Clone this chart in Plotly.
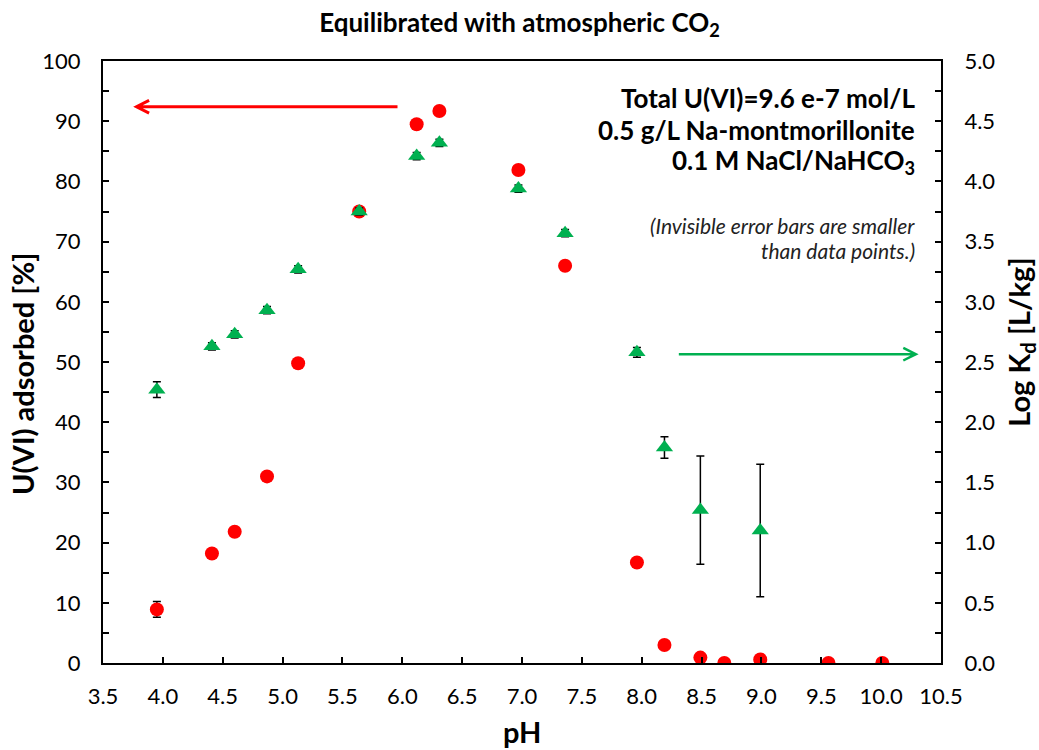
import plotly.graph_objects as go

# ---- data ----
ph_red = [3.95, 4.41, 4.60, 4.87, 5.13, 5.64, 6.12, 6.31, 6.97, 7.36, 7.96, 8.19, 8.49, 8.69, 8.99, 9.56, 10.01]
ads_pct = [8.9, 18.2, 21.8, 31.0, 49.8, 75.0, 89.5, 91.7, 81.9, 66.0, 16.7, 3.0, 0.9, 0.0, 0.6, 0.0, 0.0]
ads_err = [1.3, 0.5, 0.5, 0.5, 0.5, 0.5, 0.5, 0.5, 0.5, 0.5, 0.5, 0.5, 0.3, 0.2, 0.3, 0.2, 0.2]

ph_green = [3.95, 4.41, 4.60, 4.87, 5.13, 5.64, 6.12, 6.31, 6.97, 7.36, 7.96, 8.19, 8.49, 8.99]
log_kd = [2.27, 2.63, 2.73, 2.93, 3.27, 3.75, 4.21, 4.32, 3.94, 3.57, 2.58, 1.79, 1.27, 1.10]
kd_err = [0.065, 0.03, 0.03, 0.03, 0.03, 0.03, 0.03, 0.03, 0.03, 0.03, 0.04, 0.09, 0.45, 0.55]

x_ticks = [3.5 + 0.5 * i for i in range(15)]

FONT = "Lato"
RED = "#FF0000"
GREEN = "#00B050"

fig = go.Figure()
fig.add_trace(go.Scatter(
    x=ph_red, y=ads_pct, mode="markers", name="U(VI) adsorbed",
    marker=dict(symbol="circle", size=14, color=RED),
    error_y=dict(type="data", array=ads_err, color="black", thickness=1.5, width=4),
    yaxis="y", showlegend=False))
fig.add_trace(go.Scatter(
    x=ph_green, y=log_kd, mode="markers", name="Log Kd",
    marker=dict(symbol="triangle-up", size=15, color=GREEN),
    error_y=dict(type="data", array=kd_err, color="black", thickness=1.5, width=4),
    yaxis="y2", showlegend=False))

# arrows (left-axis data coordinates)
red_arrow = dict(x_from=5.96, x_to=3.78, y=92.4)
green_arrow = dict(x_from=8.31, x_to=10.29, y=51.3)
head_dx, head_dy = 0.105, 1.05

def arrow_path(a):
    d = 1 if a["x_to"] < a["x_from"] else -1
    tip = a["x_to"]
    return (f"M {a['x_from']},{a['y']} L {tip},{a['y']} "
            f"M {tip + d*head_dx},{a['y'] + head_dy} L {tip},{a['y']} L {tip + d*head_dx},{a['y'] - head_dy}")

shapes = [
    dict(type="path", xref="x", yref="y", path=arrow_path(red_arrow), line=dict(color=RED, width=3)),
    dict(type="path", xref="x", yref="y", path=arrow_path(green_arrow), line=dict(color=GREEN, width=2.5)),
]

notes_bold = ["Total U(VI)=9.6 e-7 mol/L", "0.5 g/L Na-montmorillonite", "0.1 M NaCl/NaHCO<sub>3</sub>"]
notes_bold_y = [93.9, 88.6, 83.3]
notes_it = ["(Invisible error bars are smaller", "than data points.)"]
notes_it_y = [72.6, 68.6]

TITLE_SIZE = 29
annotations = []
for t, yy in zip(notes_bold, notes_bold_y):
    annotations.append(dict(x=10.30, y=yy, xref="x", yref="y", text=f"<b>{t}</b>", showarrow=False,
                            xanchor="right", yanchor="middle", font=dict(family=FONT, size=26, color="black")))
for t, yy in zip(notes_it, notes_it_y):
    annotations.append(dict(x=10.30, y=yy, xref="x", yref="y", text=f"<i>{t}</i>", showarrow=False,
                            xanchor="right", yanchor="middle", font=dict(family=FONT, size=21, color="#222222")))
# axis titles
annotations += [
    dict(x=-0.0967, y=0.480, xref="paper", yref="paper", text="<b>U(VI) adsorbed [%]</b>", textangle=-90,
         showarrow=False, xanchor="center", yanchor="middle", font=dict(family=FONT, size=TITLE_SIZE, color="black")),
    dict(x=1.0955, y=0.532, xref="paper", yref="paper", text="<b>Log K<sub>d</sub> [L/kg]</b>", textangle=-90,
         showarrow=False, xanchor="center", yanchor="middle", font=dict(family=FONT, size=TITLE_SIZE, color="black")),
    dict(x=0.5, y=-0.1146, xref="paper", yref="paper", text="<b>pH</b>",
         showarrow=False, xanchor="center", yanchor="middle", font=dict(family=FONT, size=TITLE_SIZE, color="black")),
]

axis_common = dict(showline=True, linecolor="black", linewidth=2, ticks="inside", ticklen=6,
                   tickcolor="black", tickwidth=2, showgrid=False, zeroline=False,
                   tickfont=dict(family=FONT, size=22, color="black"))

fig.update_layout(
    width=1039, height=750,
    margin=dict(l=103, r=98, t=61, b=87),
    paper_bgcolor="white", plot_bgcolor="white",
    title=dict(text="<b>Equilibrated with atmospheric CO<sub>2</sub></b>", x=0.5, xanchor="center",
               y=0.97, yanchor="middle", font=dict(family=FONT, size=26, color="black")),
    xaxis=dict(range=[3.5, 10.5], tickvals=x_ticks, tickformat=".1f", mirror=True, ticklabelstandoff=13,
               **axis_common),
    yaxis=dict(range=[0, 100], dtick=10, tick0=0, ticklabelstandoff=16,
               minor=dict(dtick=5, ticks="inside", ticklen=6, tickcolor="black", tickwidth=2),
               **axis_common),
    yaxis2=dict(range=[0, 5], dtick=0.5, tick0=0, tickformat=".1f", overlaying="y", side="right",
                ticklabelstandoff=17,
                minor=dict(dtick=0.25, ticks="inside", ticklen=6, tickcolor="black", tickwidth=2),
                **axis_common),
    shapes=shapes,
    annotations=annotations,
)

fig.write_html("out.html")
